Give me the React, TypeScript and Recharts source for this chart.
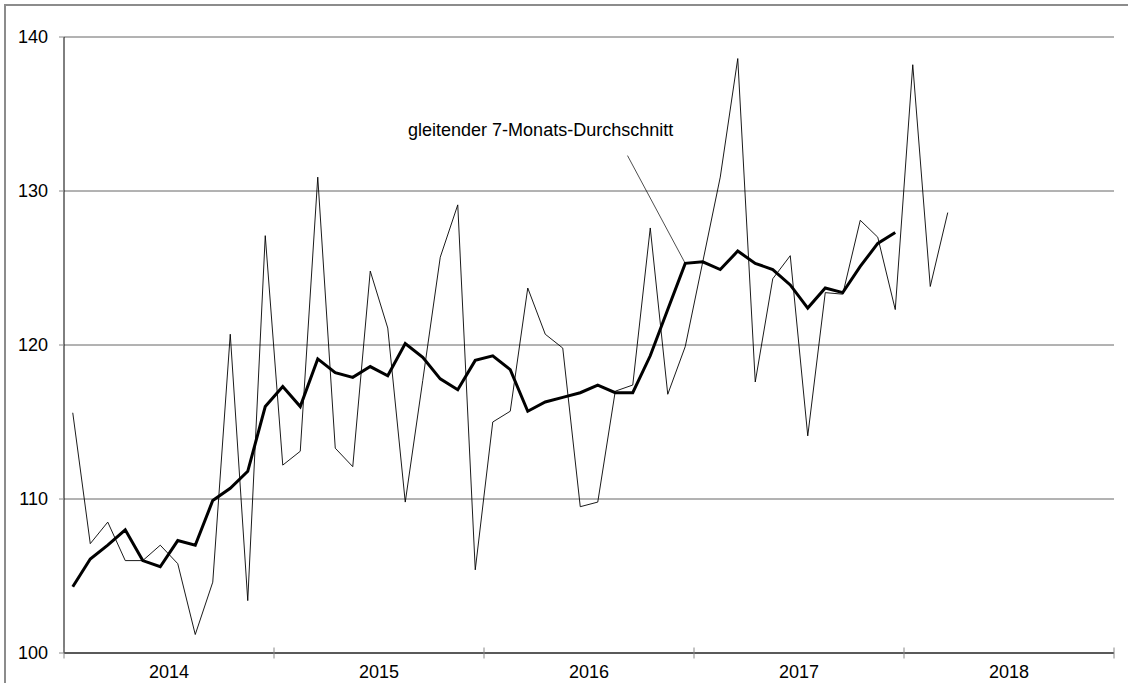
import React from 'react';
import { LineChart, Line, XAxis, YAxis, CartesianGrid, ReferenceLine, ReferenceDot } from 'recharts';

// year labels, one per 12 months
const years = ['2014', '2015', '2016', '2017', '2018'];

// monthly values, Jan 2014 - Mar 2018
const monthly = [
  115.6, 107.1, 108.5, 106.0, 106.0, 107.0, 105.8, 101.2, 104.6, 120.7, 103.4, 127.1,
  112.2, 113.1, 130.9, 113.3, 112.1, 124.8, 121.1, 109.8, 117.7, 125.7, 129.1, 105.4,
  115.0, 115.7, 123.7, 120.7, 119.8, 109.5, 109.8, 117.0, 117.4, 127.6, 116.8, 119.9,
  125.4, 130.9, 138.6, 117.6, 124.3, 125.8, 114.1, 123.4, 123.3, 128.1, 127.0, 122.3,
  138.2, 123.8, 128.6,
];

// 7-month moving average, Jan 2014 - Dec 2017
const movingAvg = [
  104.3, 106.1, 107.0, 108.0, 106.0, 105.6, 107.3, 107.0, 109.9, 110.7, 111.8, 116.0,
  117.3, 116.0, 119.1, 118.2, 117.9, 118.6, 118.0, 120.1, 119.2, 117.8, 117.1, 119.0,
  119.3, 118.4, 115.7, 116.3, 116.6, 116.9, 117.4, 116.9, 116.9, 119.3, 122.3, 125.3,
  125.4, 124.9, 126.1, 125.3, 124.9, 123.9, 122.4, 123.7, 123.4, 125.1, 126.6, 127.3,
];

const yTicks = [100, 110, 120, 130, 140];
const annotation = 'gleitender 7-Monats-Durchschnitt';

// month i sits in the middle of its month slot
const data = monthly.map((v, i) => ({
  x: i + 0.5,
  value: v,
  avg: i < movingAvg.length ? movingAvg[i] : undefined,
}));

const xTicks = years.flatMap((_, i) => [i * 12, i * 12 + 6]).concat([years.length * 12]);

const font = '"Liberation Sans", Arial, sans-serif';

const YearTick = (props: any) => {
  const { x, y, payload } = props;
  const v = payload.value as number;
  if (v % 12 === 0) {
    return <line x1={x} x2={x} y1={y - 5.5} y2={y + 5.5} stroke="#888" strokeWidth={1} />;
  }
  return (
    <text x={x} y={y + 25} textAnchor="middle" fontSize={18} fontFamily={font} fill="#000">
      {years[(v - 6) / 12]}
    </text>
  );
};

export default function App() {
  return (
    <div style={{ position: 'absolute', left: 0, top: 0, width: 1128, height: 683, background: '#fff', overflow: 'hidden' }}>
      <div
        style={{
          position: 'absolute',
          left: 4,
          top: 4,
          width: 1200,
          height: 760,
          borderTop: '2px solid #8c8c8c',
          borderLeft: '2px solid #8c8c8c',
        }}
      />
      <div style={{ position: 'absolute', left: 0, top: 0 }}>
        <LineChart width={1128} height={683} data={data} margin={{ top: 37, right: 14, left: 0, bottom: 0 }}>
          <CartesianGrid vertical={false} stroke="#666" strokeWidth={1} />
          <XAxis
            dataKey="x"
            type="number"
            domain={[0, 60]}
            ticks={xTicks}
            interval={0}
            height={30}
            tickLine={false}
            tickSize={0}
            tickMargin={0}
            axisLine={{ stroke: '#000', strokeWidth: 1 }}
            tick={<YearTick />}
          />
          <YAxis
            domain={[100, 140]}
            ticks={yTicks}
            width={64}
            tickSize={5}
            tickMargin={11}
            tickLine={{ stroke: '#888' }}
            axisLine={{ stroke: '#000', strokeWidth: 1 }}
            tick={{ fontSize: 18, fill: '#000', fontFamily: font }}
          />
          <Line
            type="linear"
            dataKey="value"
            stroke="#000"
            strokeWidth={0.9}
            dot={false}
            isAnimationActive={false}
          />
          <Line
            type="linear"
            dataKey="avg"
            stroke="#000"
            strokeWidth={3}
            dot={false}
            connectNulls={false}
            isAnimationActive={false}
          />
          <ReferenceLine
            segment={[{ x: 32.2, y: 132.3 }, { x: 35.5, y: 125.3 }]}
            stroke="#000"
            strokeWidth={0.7}
            ifOverflow="visible"
          />
          <ReferenceDot
            x={19.66}
            y={133.57}
            r={0}
            ifOverflow="visible"
            shape={(p: any) => (
              <text x={p.cx} y={p.cy} fontSize={18} fontFamily={font} fill="#000">
                {annotation}
              </text>
            )}
          />
        </LineChart>
      </div>
    </div>
  );
}
